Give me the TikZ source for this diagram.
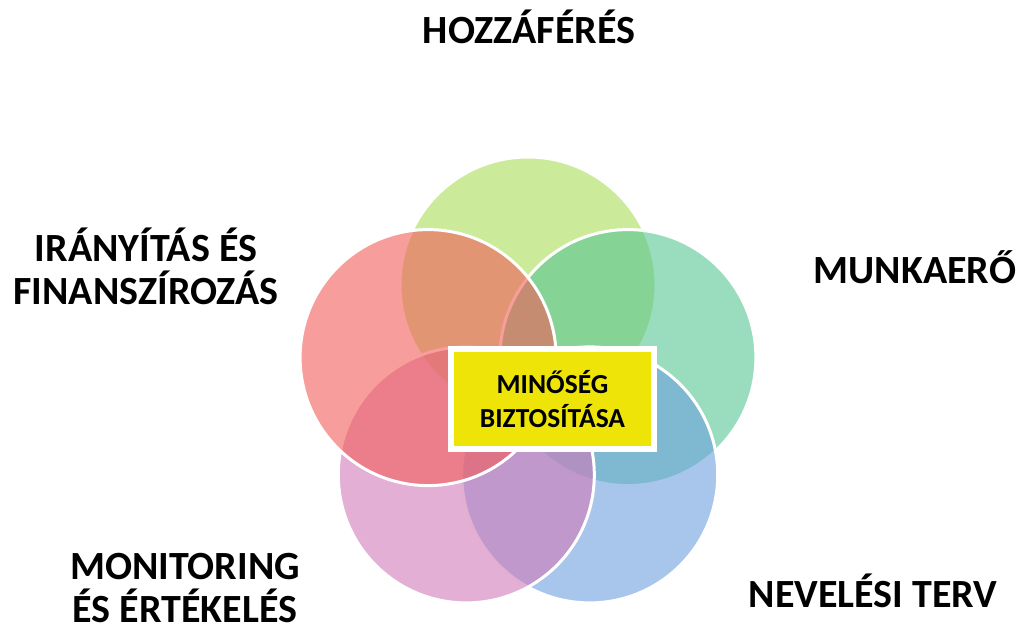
\documentclass[tikz,border=0pt]{standalone}
\usepackage{fontspec}
\setmainfont{Carlito}
\definecolor{cTop}{RGB}{168,222,88}
\definecolor{cTeal}{RGB}{87,198,147}
\definecolor{cBlue}{RGB}{110,160,222}
\definecolor{cPink}{RGB}{208,122,183}
\definecolor{cRed}{RGB}{242,92,88}
\definecolor{cBox}{RGB}{238,228,8}
\begin{document}
\begin{tikzpicture}[x=1pt,y=-1pt,
  petal/.style={circle, minimum size=256pt, inner sep=0pt, draw=white, line width=3pt, fill opacity=0.6},
  lbl/.style={font=\bfseries\fontsize{40}{43}\selectfont, align=center, inner sep=0pt},
  centerbox/.style={fill=cBox, draw=white, line width=6pt, minimum width=203pt, minimum height=100pt, inner sep=0pt, align=center, font=\bfseries\fontsize{27.5}{34}\selectfont}]
\useasboundingbox (0,0) rectangle (1021,628);
\node[petal, fill=cTop]  (top)  at (528,285) {};
\node[petal, fill=cTeal] (teal) at (627.9,357.6) {};
\node[petal, fill=cBlue] (blue) at (589.7,474.9) {};
\node[petal, fill=cPink] (pink) at (466.3,474.9) {};
\node[petal, fill=cRed]  (red)  at (428.1,357.6) {};
\node[centerbox] (box) at (552.5,399) {MINŐSÉG\\BIZTOSÍTÁSA};
\node[lbl] (l1) at (529,27) {HOZZÁFÉRÉS};
\node[lbl] (l2) at (915,267) {MUNKAERŐ};
\node[lbl] (l3) at (873,591) {NEVELÉSI TERV};
\node[lbl] (l4) at (185,588) {MONITORING\\ÉS ÉRTÉKELÉS};
\node[lbl] (l5) at (146,266) {IRÁNYÍTÁS ÉS\\FINANSZÍROZÁS};
\end{tikzpicture}
\end{document}
